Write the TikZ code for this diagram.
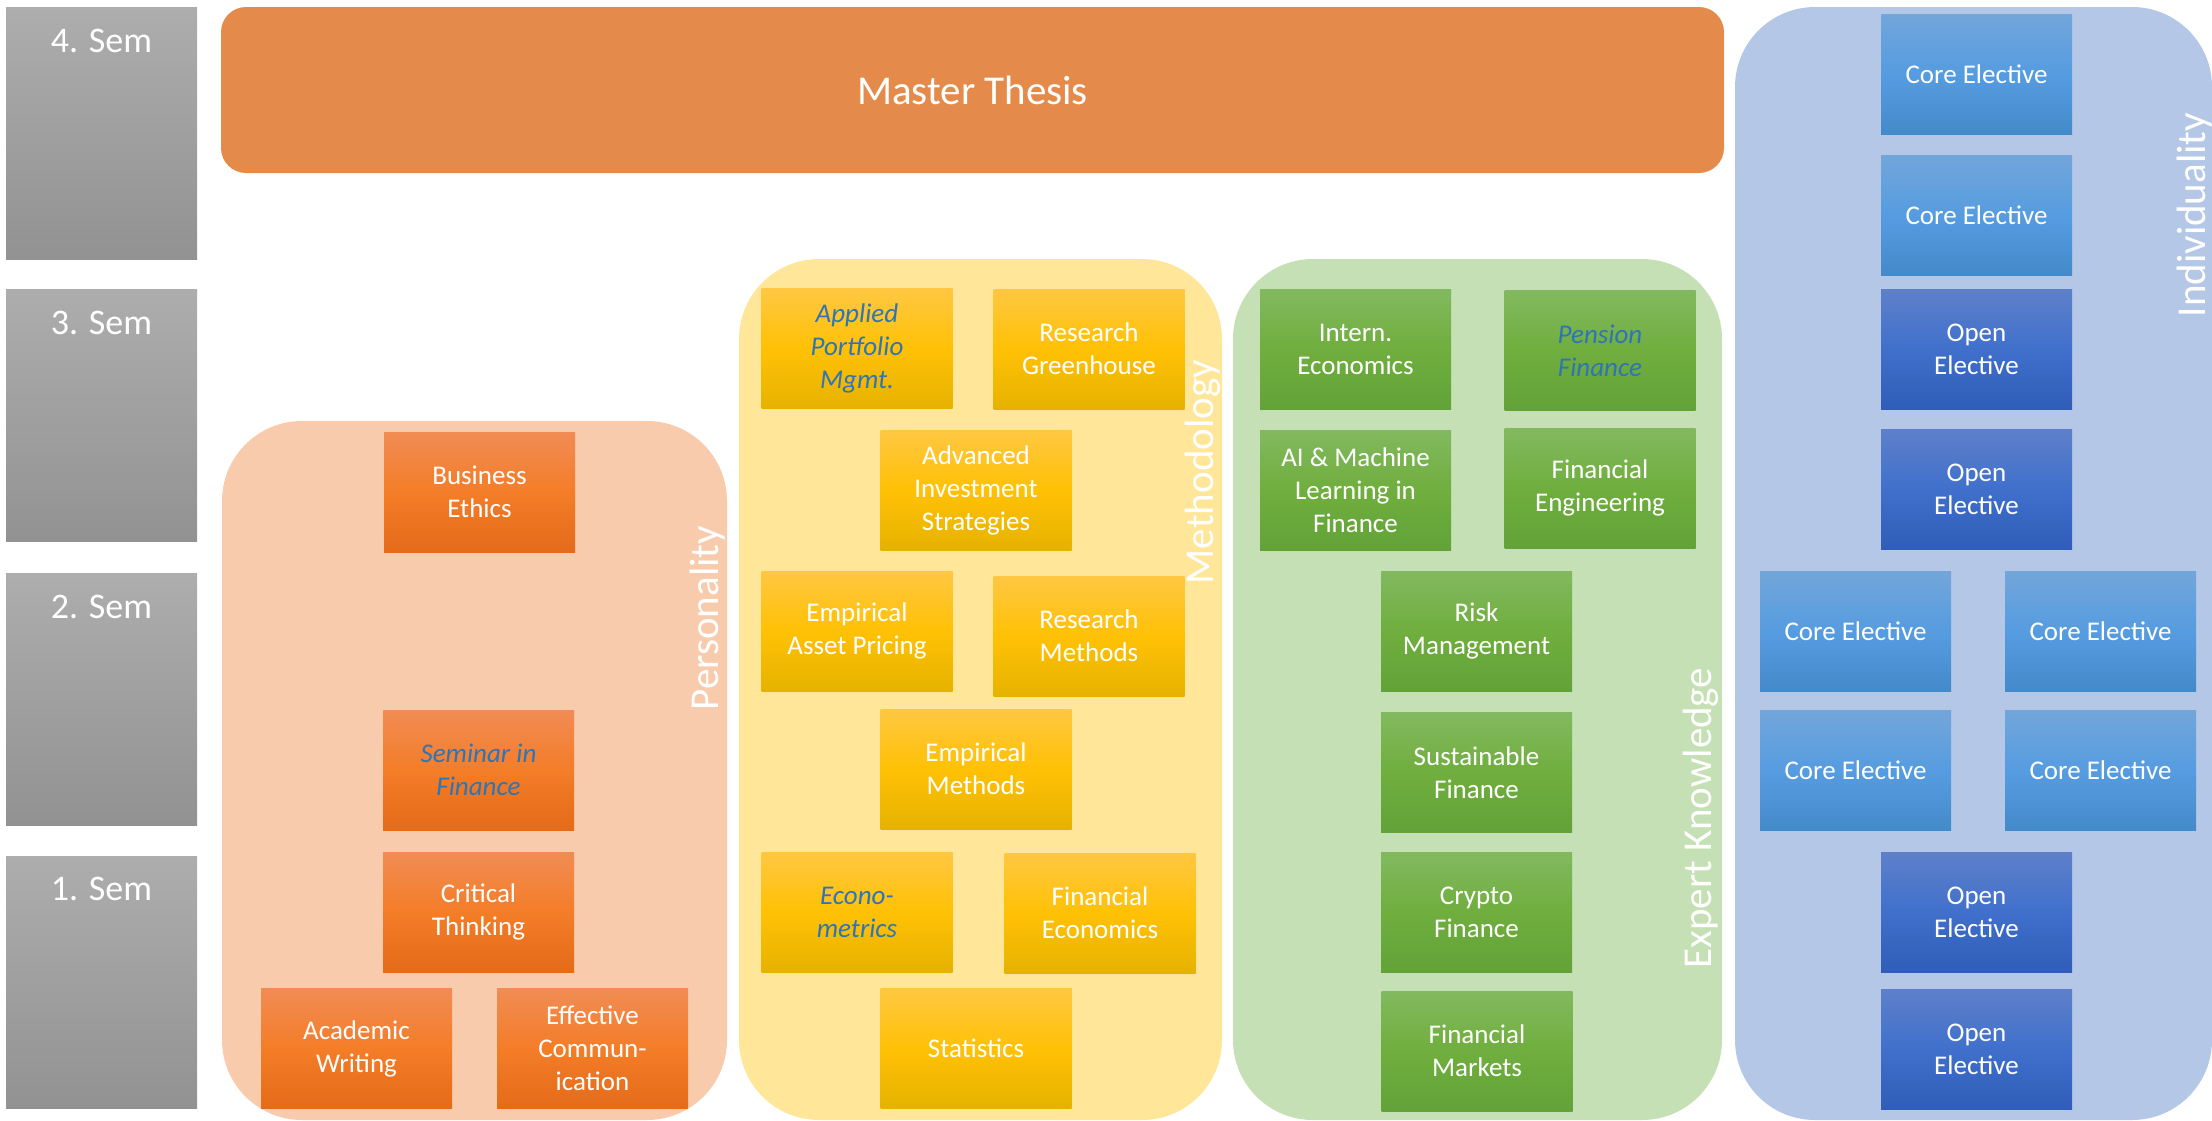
\documentclass[tikz,border=0pt]{standalone}
\usepackage{fontspec}
\setmainfont{Carlito}
\definecolor{semT}{RGB}{173,173,173}
\definecolor{semB}{RGB}{146,146,146}
\definecolor{thesis}{RGB}{228,139,75}
\definecolor{persfill}{RGB}{248,203,173}
\definecolor{methfill}{RGB}{255,230,153}
\definecolor{expfill}{RGB}{197,224,180}
\definecolor{indfill}{RGB}{180,199,231}
\definecolor{orT}{RGB}{241,140,84}
\definecolor{orM}{RGB}{244,125,40}
\definecolor{orB}{RGB}{228,107,25}
\definecolor{yeT}{RGB}{255,199,66}
\definecolor{yeM}{RGB}{255,193,5}
\definecolor{yeB}{RGB}{230,178,0}
\definecolor{grT}{RGB}{130,185,95}
\definecolor{grM}{RGB}{112,174,62}
\definecolor{grB}{RGB}{98,162,56}
\definecolor{cbT}{RGB}{114,166,218}
\definecolor{cbM}{RGB}{86,156,224}
\definecolor{cbB}{RGB}{68,138,202}
\definecolor{obT}{RGB}{94,128,201}
\definecolor{obM}{RGB}{64,112,204}
\definecolor{obB}{RGB}{47,93,184}
\definecolor{linkblue}{RGB}{46,117,182}
\begin{document}
\begin{tikzpicture}[x=1pt,y=-1pt,
  course/.style={minimum width=191pt, minimum height=120pt, inner sep=0pt,
    align=center, text=white, font=\fontsize{27}{33}\selectfont},
  orbox/.style={course, top color=orT, bottom color=orB, middle color=orM},
  yebox/.style={course, top color=yeT, bottom color=yeB, middle color=yeM},
  grbox/.style={course, top color=grT, bottom color=grB, middle color=grM},
  cbbox/.style={course, top color=cbT, bottom color=cbB, middle color=cbM},
  obbox/.style={course, top color=obT, bottom color=obB, middle color=obM},
  hl/.style={text=linkblue, font=\fontsize{27}{33}\selectfont\itshape},
  sembox/.style={minimum width=191pt, minimum height=252pt, inner sep=0pt,
    top color=semT, bottom color=semB},
  semlabel/.style={anchor=base, text=white, font=\fontsize{36}{40}\selectfont},
  grouplabel/.style={rotate=90, text=white, inner sep=0pt, font=\fontsize{41}{46}\selectfont},
  container/.style={rounded corners=80pt}
]
\useasboundingbox (0,0) rectangle (2212,1120);

% semester column
\node[sembox] (s4) at (101.5,133) {};
\node[sembox] (s3) at (101.5,415.5) {};
\node[sembox] (s2) at (101.5,699) {};
\node[sembox] (s1) at (101.5,982.5) {};
\node[semlabel] (l4) at (101.5,52) {4. Sem};
\node[semlabel] (l3) at (101.5,334) {3. Sem};
\node[semlabel] (l2) at (101.5,618) {2. Sem};
\node[semlabel] (l1) at (101.5,900) {1. Sem};

% thesis
\node[fill=thesis, rounded corners=25pt, minimum width=1503pt, minimum height=166pt,
  inner sep=0pt, text=white, font=\fontsize{41}{46}\selectfont] (thesis) at (972.5,90) {Master Thesis};

% containers
\fill[persfill, container] (222,421) rectangle (727,1120);
\fill[methfill, container] (739,259) rectangle (1222,1120);
\fill[expfill, container] (1233,259) rectangle (1722,1120);
\fill[indfill, container] (1735,7) rectangle (2212,1120);

% group labels
\node[grouplabel] (gpers) at (708,618) {Personality};
\node[grouplabel] (gmeth) at (1203,472) {Methodology};
\node[grouplabel] (gexp) at (1701,818) {Expert Knowledge};
\node[grouplabel] (gind) at (2195,215) {Individuality};

% personality
\node[orbox] (be) at (479.5,492) {Business\\Ethics};
\node[orbox, hl] (sif) at (478.5,770) {Seminar in\\Finance};
\node[orbox] (ct) at (478.5,912) {Critical\\Thinking};
\node[orbox] (aw) at (356.5,1048.5) {Academic\\Writing};
\node[orbox] (ec) at (592.5,1048.5) {Effective\\Commun-\\ication};

% methodology
\node[yebox, hl] (apm) at (857,348.5) {Applied\\Portfolio\\Mgmt.};
\node[yebox] (rg) at (1089,349) {Research\\Greenhouse};
\node[yebox] (ais) at (976,490) {Advanced\\Investment\\Strategies};
\node[yebox] (eap) at (857,631) {Empirical\\Asset Pricing};
\node[yebox] (rm) at (1089,636) {Research\\Methods};
\node[yebox] (em) at (976,769) {Empirical\\Methods};
\node[yebox, hl] (eco) at (857,912) {Econo-\\metrics};
\node[yebox] (fe) at (1100,913) {Financial\\Economics};
\node[yebox] (st) at (976,1048.5) {Statistics};

% expert knowledge
\node[grbox] (ie) at (1355.5,349) {Intern.\\Economics};
\node[grbox, hl] (pf) at (1600,350.5) {Pension\\Finance};
\node[grbox] (ai) at (1355.5,490) {AI \& Machine\\Learning in\\Finance};
\node[grbox] (feng) at (1600,488) {Financial\\Engineering};
\node[grbox] (risk) at (1476.5,631) {Risk\\Management};
\node[grbox] (sf) at (1476.5,772.5) {Sustainable\\Finance};
\node[grbox] (cf) at (1476.5,912) {Crypto\\Finance};
\node[grbox] (fm) at (1477,1051) {Financial\\Markets};

% individuality
\node[cbbox] (c1) at (1976.5,74) {Core Elective};
\node[cbbox] (c2) at (1976.5,215) {Core Elective};
\node[obbox] (o1) at (1976.5,349) {Open\\Elective};
\node[obbox] (o2) at (1976.5,489.5) {Open\\Elective};
\node[cbbox] (c3) at (1855.5,631.5) {Core Elective};
\node[cbbox] (c4) at (2100.5,631.5) {Core Elective};
\node[cbbox] (c5) at (1855.5,770.5) {Core Elective};
\node[cbbox] (c6) at (2100.5,770.5) {Core Elective};
\node[obbox] (o3) at (1976.5,912) {Open\\Elective};
\node[obbox] (o4) at (1976.5,1049.5) {Open\\Elective};
\end{tikzpicture}
\end{document}
